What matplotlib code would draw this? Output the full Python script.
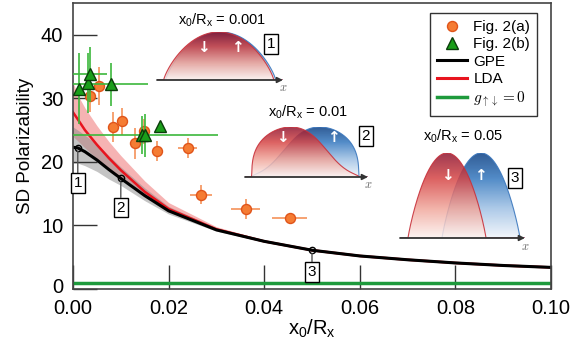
import numpy as np
import matplotlib
matplotlib.use('Agg')
import matplotlib.pyplot as plt
from matplotlib.patches import Polygon
from matplotlib.lines import Line2D
from matplotlib.colors import LinearSegmentedColormap
from matplotlib.transforms import ScaledTranslation

plt.rcParams['font.family'] = ['Liberation Sans', 'DejaVu Sans']
plt.rcParams['mathtext.fontset'] = 'custom'
plt.rcParams['mathtext.rm'] = 'Liberation Sans'
plt.rcParams['mathtext.it'] = 'Liberation Sans:italic'

# ---------------- data ----------------
fig2a_x = [0.0036, 0.0055, 0.0083, 0.0102, 0.0129, 0.0148, 0.0175, 0.0240, 0.0268, 0.0361, 0.0453]
fig2a_y = [30.4, 32.0, 25.5, 26.4, 22.9, 24.8, 21.7, 22.2, 14.8, 12.6, 11.1]
fig2a_yerr = [2.6, 3.0, 2.3, 2.1, 2.5, 2.0, 1.6, 1.6, 1.5, 1.6, 0.8]
fig2a_xerr = [0.0004, 0.0004, 0.0004, 0.0004, 0.0004, 0.0006, 0.0010, 0.0020, 0.0023, 0.0030, 0.0037]

fig2b_x = [0.0013, 0.0031, 0.0036, 0.0079, 0.0145, 0.0151, 0.0181]
fig2b_y = [31.5, 32.4, 33.8, 32.2, 24.2, 24.2, 25.7]
fig2b_yerr = [5.6, 4.7, 4.3, 3.4, 3.0, 3.4, 0.0]
fig2b_xerr = [0.0, 0.0, 0.0035, 0.0078, 0.0, 0.0152, 0.0]

theory_x = [0.0, 0.001, 0.0025, 0.005, 0.0075, 0.01, 0.015, 0.02, 0.03, 0.04, 0.05, 0.06, 0.07, 0.08, 0.09, 0.10]
gpe_y  = [22.3, 22.2, 21.6, 20.3, 18.8, 17.4, 14.7, 12.3, 9.3, 7.5, 6.1, 5.2, 4.6, 4.1, 3.7, 3.4]
gpe_lo = [19.8, 19.8, 19.4, 18.5, 17.3, 16.3, 13.9, 11.8, 9.1, 7.4, 6.0, 5.15, 4.55, 4.05, 3.65, 3.35]
gpe_hi = [25.5, 25.0, 24.2, 22.8, 21.0, 19.2, 15.9, 13.0, 9.6, 7.7, 6.2, 5.25, 4.65, 4.15, 3.75, 3.45]
lda_y  = [27.8, 26.7, 25.0, 22.7, 20.6, 18.7, 15.3, 12.6, 9.4, 7.5, 6.1, 5.2, 4.6, 4.1, 3.7, 3.4]
lda_lo = [24.0, 23.3, 22.2, 20.5, 18.9, 17.4, 14.6, 12.2, 9.2, 7.4, 6.0, 5.15, 4.55, 4.05, 3.65, 3.35]
lda_hi = [32.5, 30.5, 28.5, 25.7, 23.2, 21.0, 17.0, 13.6, 9.8, 7.7, 6.25, 5.3, 4.7, 4.15, 3.75, 3.45]

g0_value = 0.9

marked_x = [0.001, 0.01, 0.05]
marked_y = [22.2, 17.4, 6.1]
marked_labels = ['1', '2', '3']
inset_values = ['0.001', '0.01', '0.05']

x_ticks = [0.0, 0.02, 0.04, 0.06, 0.08, 0.10]
y_ticks = [0, 10, 20, 30, 40]

# ---------------- figure ----------------
W, H = 571, 351
fig = plt.figure(figsize=(W / 100, H / 100), dpi=100)

def fx(px):
    return px / W

def fy(py):
    return 1 - py / H

ax = fig.add_axes([fx(73), fy(289), fx(551) - fx(73), fy(3) - fy(289)])

ax.fill_between(theory_x, lda_lo, lda_hi, color='#f28b8b', alpha=0.65, lw=0, zorder=1)
ax.fill_between(theory_x, gpe_lo, gpe_hi, color='#8a8a8a', alpha=0.5, lw=0, zorder=1.1)
ax.plot(theory_x, lda_y, color='#e8141e', lw=1.8, zorder=2)
ax.plot(theory_x, gpe_y, color='black', lw=2.2, zorder=2.1)
ax.axhline(g0_value, color='#1e9a3c', lw=2.5, zorder=2)

ax.errorbar(fig2a_x, fig2a_y, yerr=fig2a_yerr, xerr=fig2a_xerr, fmt='o', ms=7.2,
            mfc='#f57c33', mec='#e0541a', mew=1, ecolor='#f5925a', elinewidth=1.2,
            capsize=0, zorder=3)
ax.errorbar(fig2b_x, fig2b_y, yerr=fig2b_yerr, xerr=fig2b_xerr, fmt='^', ms=8.5,
            mfc='#1a9e1a', mec='#0b3d0b', mew=1, ecolor='#3cb83c', elinewidth=1.2,
            capsize=0, zorder=4)

ax.plot(marked_x, marked_y, 'o', mfc='none', mec='black', ms=4.5, mew=1.0, zorder=5)
box_y = [16.7, 12.8, 2.7]
for mx, my, lab, by in zip(marked_x, marked_y, marked_labels, box_y):
    ax.annotate(lab, xy=(mx, my), xytext=(mx, by), textcoords='data',
                ha='center', va='center', fontsize=11,
                bbox=dict(boxstyle='square,pad=0.18', fc='white', ec='black', lw=1),
                arrowprops=dict(arrowstyle='-', color='#555555', lw=1, shrinkA=0, shrinkB=2.5),
                zorder=6)

ax.set_xlim(0, 0.10)
ax.set_ylim(0, 45)
ax.set_xticks(x_ticks)
ax.set_xticklabels(['%.2f' % v for v in x_ticks])
ax.set_yticks(y_ticks)
ax.tick_params(direction='in', length=17, width=1, labelsize=14.5, pad=7, color='#333333')
ax.tick_params(axis='y', pad=7)
for s in ax.spines.values():
    s.set_color('#444444')
    s.set_linewidth(1.2)
ax.set_xlabel('x$_0$/R$_\\mathrm{x}$', fontsize=14.5, labelpad=0)
ax.set_ylabel('SD Polarizability', fontsize=13.5, labelpad=5)
zero_lab = ax.get_yticklabels()[0]
zero_lab.set_transform(zero_lab.get_transform() + ScaledTranslation(0, 2.5 / 72, fig.dpi_scale_trans))

handles = [
    Line2D([], [], ls='none', marker='o', ms=7.2, mfc='#f57c33', mec='#e0541a'),
    Line2D([], [], ls='none', marker='^', ms=8.5, mfc='#1a9e1a', mec='#0b3d0b'),
    Line2D([], [], color='black', lw=2.2),
    Line2D([], [], color='#e8141e', lw=2.2),
    Line2D([], [], color='#1e9a3c', lw=2.5),
]
labels = ['Fig. 2(a)', 'Fig. 2(b)', 'GPE', 'LDA', '$g_{\\uparrow\\downarrow} = 0$']
leg = fig.legend(handles, labels, loc='upper right', bbox_to_anchor=(fx(537), fy(13)),
                 bbox_transform=fig.transFigure, fontsize=11, frameon=True, fancybox=False,
                 edgecolor='black', borderaxespad=0, handlelength=2.0, handletextpad=0.4,
                 labelspacing=0.22, borderpad=0.45)
leg.get_frame().set_linewidth(1.0)
leg.get_texts()[4].set_math_fontfamily('cm')

# ---------------- insets ----------------
red_cmap = LinearSegmentedColormap.from_list('rg', [(0, '#fdf3f0'), (0.35, '#f0a59a'),
                                                     (0.7, '#d64545'), (1, '#8e1530')])
blue_cmap = LinearSegmentedColormap.from_list('bg', [(0, '#f2f6fb'), (0.35, '#a4c4e6'),
                                                      (0.7, '#3f7fc2'), (1, '#1a4a8a')])

def tf(x, c, R, p):
    return np.clip(1 - ((x - c) / R) ** 2, 0, None) ** p

def draw_profile(iax, xs, ys, cmap, alpha, ec, z):
    verts = np.column_stack([np.r_[xs[0], xs, xs[-1]], np.r_[0, ys, 0]])
    poly = Polygon(verts, closed=True, fc='none', ec='none')
    iax.add_patch(poly)
    grad = np.linspace(0, 1, 256).reshape(-1, 1)
    im = iax.imshow(grad, cmap=cmap, origin='lower', extent=[0, 1, 0, 1], aspect='auto',
                    alpha=alpha, zorder=z, interpolation='bilinear')
    im.set_clip_path(poly)
    iax.plot(xs, ys, color=ec, lw=0.8, zorder=z + 0.1, alpha=0.9)

inset_rects = [(157, 283, 80, 32), (245, 368, 177, 127), (400, 525, 238, 153)]
xs = np.linspace(0, 1, 400)
for k, (L, R_, base, top) in enumerate(inset_rects):
    iax = fig.add_axes([fx(L), fy(base), fx(R_) - fx(L), fy(top) - fy(base)])
    iax.set_zorder(10)
    iax.axis('off')
    if k == 0:
        red = tf(xs, 0.490, 0.437, 0.8)
        blue = tf(xs, 0.505, 0.437, 0.8)
    elif k == 1:
        tot = tf(xs, 0.49, 0.435, 0.35)
        red = tot / (1 + np.exp((xs - 0.675) / 0.10))
        blue = tot / (1 + np.exp(-(xs - 0.305) / 0.10))
        red /= red.max()
        blue /= blue.max()
    else:
        red = tf(xs, 0.376, 0.312, 0.9)
        blue = tf(xs, 0.648, 0.312, 0.9)
    draw_profile(iax, xs, blue, blue_cmap, 0.9, '#3c78be', 1)
    draw_profile(iax, xs, red, red_cmap, 0.85, '#c8323c', 2)
    iax.set_xlim(0, 1)
    iax.set_ylim(0, 1)
    iax.annotate('', xy=(1.0, 0), xytext=(0, 0), xycoords='axes fraction',
                 arrowprops=dict(arrowstyle='-|>', color='#333333', lw=1.3,
                                 mutation_scale=8, shrinkA=0, shrinkB=0),
                 annotation_clip=False, zorder=5)
    iax.text(1.0, -0.04, '$x$', transform=iax.transAxes, ha='center', va='top',
             fontsize=9, color='#666666', math_fontfamily='cm')

title_pos = [(222, 20), (308, 112), (463, 136)]
box_pos = [(271, 44), (366, 136), (515, 178)]
arrow_pos = [((203, 48), (237, 48)), ((282, 138), (333, 138)), ((447, 175), (480, 175))]
for val, (tx, ty), (bx, by), (dn, up), lab in zip(inset_values, title_pos, box_pos, arrow_pos, marked_labels):
    fig.text(fx(tx), fy(ty), 'x$_0$/R$_\\mathrm{x}$ = ' + val, ha='center', va='center', fontsize=10.5, zorder=20)
    fig.text(fx(bx), fy(by), lab, ha='center', va='center', fontsize=11, zorder=20,
             bbox=dict(boxstyle='square,pad=0.18', fc='white', ec='black', lw=1))
    fig.text(fx(dn[0]), fy(dn[1]), '\u2193', ha='center', va='center', fontsize=11,
             color='white', fontweight='bold', family='DejaVu Sans', zorder=20)
    fig.text(fx(up[0]), fy(up[1]), '\u2191', ha='center', va='center', fontsize=11,
             color='white', fontweight='bold', family='DejaVu Sans', zorder=20)

fig.savefig('out.png', dpi=100)
